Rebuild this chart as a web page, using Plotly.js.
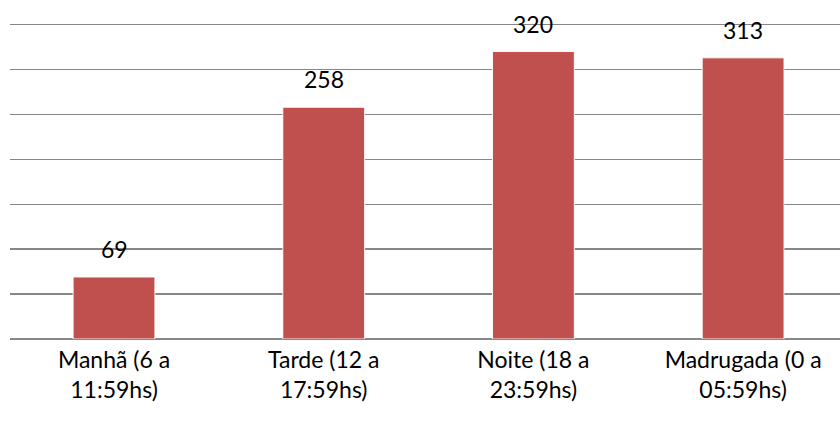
<!DOCTYPE html>
<html>
<head>
<meta charset="utf-8">
<script src="https://cdn.plot.ly/plotly-3.0.1.min.js"></script>
<style>html,body{margin:0;padding:0;background:#fff;}#chart{width:840px;height:427px;}</style>
</head>
<body>
<div id="chart"></div>
<script>
const categories = ["Manhã (6 a<br>11:59hs)", "Tarde (12 a<br>17:59hs)", "Noite (18 a<br>23:59hs)", "Madrugada (0 a<br>05:59hs)"];
const values = [69, 258, 320, 313];
const yTicks = [0, 50, 100, 150, 200, 250, 300, 350];

const FONT = "Lato, 'Open Sans', sans-serif";

const trace = {
  type: 'bar',
  x: categories,
  y: values,
  width: 0.39,
  marker: {color: '#C0504D', line: {color: 'rgba(255,255,255,0.9)', width: 1}},
  hoverinfo: 'none'
};

const annotations = values.map((v, i) => ({
  x: categories[i], y: v, xref: 'x', yref: 'y',
  text: String(v), showarrow: false, yanchor: 'middle', yshift: 28,
  font: {family: FONT, size: 23, color: '#000'}
}));

const layout = {
  width: 840, height: 427,
  margin: {l: 10, r: 0, t: 21, b: 88},
  paper_bgcolor: '#fff', plot_bgcolor: '#fff',
  showlegend: false,
  xaxis: {
    type: 'category',
    range: [-0.496, 3.462],
    showgrid: false, zeroline: false,
    showline: false,
    ticks: '',
    tickfont: {family: FONT, size: 23, color: '#000'},
    ticklabelstandoff: 5,
    fixedrange: true
  },
  yaxis: {
    range: [0, 354],
    tickvals: yTicks,
    showticklabels: false,
    showgrid: true, gridcolor: '#878787', gridwidth: 1.5,
    zeroline: true, zerolinecolor: '#878787', zerolinewidth: 1.5,
    showline: false, ticks: '',
    fixedrange: true
  },
  annotations: annotations
};

Plotly.newPlot('chart', [trace], layout, {displayModeBar: false, staticPlot: true});
</script>
</body>
</html>
